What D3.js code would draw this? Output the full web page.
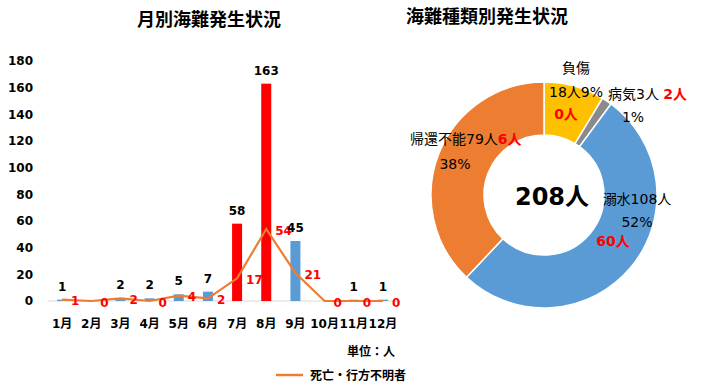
<!DOCTYPE html>
<html>
<head>
<meta charset="utf-8">
<script src="https://cdn.jsdelivr.net/npm/d3@7"></script>
<style>
  body { margin: 0; background: #fff; }
  text { font-family: "DejaVu Sans", "Noto Sans CJK JP", sans-serif; }
</style>
</head>
<body>
<div id="chart-container"></div>
<script>
// monthly data
const months = ["1月", "2月", "3月", "4月", "5月", "6月", "7月", "8月", "9月", "10月", "11月", "12月"];
const accidents = [1, 0, 2, 2, 5, 7, 58, 163, 45, 0, 1, 1];
const deaths = [1, 0, 2, 0, 4, 2, 17, 54, 21, 0, 0, 0];
const redMonths = ["7月", "8月"];
const yTicks = [0, 20, 40, 60, 80, 100, 120, 140, 160, 180];

// donut data
const kinds = ["負傷", "病気", "溺水", "帰還不能"];
const kindCounts = [18, 3, 108, 79];
const kindDeaths = [0, 2, 60, 6];
const kindColors = ["#FFC000", "#8A8A8A", "#5B9BD5", "#ED7D31"];
const total = 208;

const W = 701, H = 387;
const svg = d3.select("#chart-container").append("svg")
  .attr("width", W).attr("height", H);

// ---- left: bar + line chart ----
const x = d3.scaleBand().domain(months).range([47.5, 397.5]);
const y = d3.scaleLinear().domain([0, 180]).range([301, 61]);
const cx = (m) => x(m) + x.bandwidth() / 2;

svg.append("text")
  .attr("x", 209).attr("y", 26)
  .attr("text-anchor", "middle")
  .style("font-family", "'Noto Sans CJK JP'")
  .style("font-weight", "bold").style("font-size", "18px")
  .text("月別海難発生状況");

const yAxis = svg.append("g")
  .attr("transform", "translate(47.5,0)")
  .call(d3.axisLeft(y).tickValues(yTicks).tickSize(0).tickPadding(14.5));
yAxis.select(".domain").remove();
yAxis.selectAll("text").style("font-size", "12px").style("font-weight", "bold").attr("fill", "#000");

// baseline
svg.append("line")
  .attr("x1", 47.5).attr("x2", 397.5)
  .attr("y1", y(0)).attr("y2", y(0))
  .attr("stroke", "#d9d9d9").attr("stroke-width", 1);

const xAxis = svg.append("g")
  .attr("transform", `translate(0,${y(0)})`)
  .call(d3.axisBottom(x).tickSize(0).tickPadding(18));
xAxis.select(".domain").remove();
xAxis.selectAll("text").style("font-size", "12px").style("font-weight", "bold").attr("fill", "#000");

const barData = months.map((m, i) => ({ m, v: accidents[i], d: deaths[i] }));

svg.selectAll(".bar").data(barData).enter().append("rect")
  .attr("class", "bar")
  .attr("x", (d) => cx(d.m) - 5)
  .attr("width", 10)
  .attr("y", (d) => y(d.v))
  .attr("height", (d) => y(0) - y(d.v))
  .attr("fill", (d) => (redMonths.includes(d.m) ? "#FF0000" : "#5B9BD5"));

const line = d3.line().x((d) => cx(d.m)).y((d) => y(d.d));
svg.append("path").datum(barData)
  .attr("fill", "none")
  .attr("stroke", "#ED7D31")
  .attr("stroke-width", 2.2)
  .attr("d", line);

// death labels (right of point)
svg.selectAll(".dlabel").data(barData).enter().append("text")
  .attr("x", (d) => cx(d.m) + 9)
  .attr("y", (d) => y(d.d) + 2)
  .attr("dominant-baseline", "middle")
  .attr("fill", "#FF0000")
  .style("font-size", "12px").style("font-weight", "bold")
  .text((d) => d.d);

// bar labels
svg.selectAll(".blabel").data(barData.filter((d) => d.v > 0)).enter().append("text")
  .attr("x", (d) => cx(d.m))
  .attr("y", (d) => y(d.v) - 9)
  .attr("text-anchor", "middle")
  .style("font-size", "12px").style("font-weight", "bold")
  .text((d) => d.v);

svg.append("text")
  .attr("x", 395).attr("y", 356)
  .attr("text-anchor", "end")
  .style("font-family", "'Noto Sans CJK JP'")
  .style("font-size", "12px").style("font-weight", "bold")
  .text("単位：人");

svg.append("line")
  .attr("x1", 276).attr("x2", 303).attr("y1", 375).attr("y2", 375)
  .attr("stroke", "#ED7D31").attr("stroke-width", 2.5);
svg.append("text")
  .attr("x", 310).attr("y", 379.5)
  .style("font-family", "'Noto Sans CJK JP'")
  .style("font-size", "12px").style("font-weight", "bold")
  .text("死亡・行方不明者");

// ---- right: donut ----
const dcx = 544, dcy = 195;
svg.append("text")
  .attr("x", 487).attr("y", 23)
  .attr("text-anchor", "middle")
  .style("font-family", "'Noto Sans CJK JP'")
  .style("font-weight", "bold").style("font-size", "18px")
  .text("海難種類別発生状況");

const pie = d3.pie().sort(null).value((d) => d.v);
const arc = d3.arc().innerRadius(60).outerRadius(113);
const pieData = pie(kinds.map((k, i) => ({ k, v: kindCounts[i], c: kindColors[i] })));

const dg = svg.append("g").attr("transform", `translate(${dcx},${dcy})`);
dg.selectAll("path").data(pieData).enter().append("path")
  .attr("d", arc)
  .attr("fill", (d) => d.data.c)
  .attr("stroke", "#fff").attr("stroke-width", 1.5);

const pct = (i) => Math.round((kindCounts[i] / total) * 100) + "%";

function lbl(dx, dy, anchor, parts) {
  const t = dg.append("text")
    .attr("x", dx).attr("y", dy)
    .attr("text-anchor", anchor)
    .attr("dominant-baseline", "middle")
    .style("font-size", "14px");
  parts.forEach((p) => {
    t.append("tspan")
      .attr("fill", p.red ? "#FF0000" : "#000")
      .style("font-weight", p.red ? "bold" : "normal")
      .text(p.t);
  });
}

// 負傷
lbl(32, -126, "middle", [{ t: kinds[0] }]);
lbl(32, -102, "middle", [{ t: kindCounts[0] + "人" + pct(0) }]);
lbl(22, -80, "middle", [{ t: kindDeaths[0] + "人", red: true }]);
// 病気
lbl(64, -100, "start", [{ t: kinds[1] + kindCounts[1] + "人 " }, { t: kindDeaths[1] + "人", red: true }]);
lbl(89, -77, "middle", [{ t: pct(1) }]);
// 溺水
lbl(93, 5, "middle", [{ t: kinds[2] + kindCounts[2] + "人" }]);
lbl(93, 28, "middle", [{ t: pct(2) }]);
lbl(69, 47, "middle", [{ t: kindDeaths[2] + "人", red: true }]);
// 帰還不能
lbl(-134, -55, "start", [{ t: kinds[3] + kindCounts[3] + "人" }, { t: kindDeaths[3] + "人", red: true }]);
lbl(-89, -30, "middle", [{ t: pct(3) }]);

dg.append("text")
  .attr("x", 8).attr("y", 3)
  .attr("text-anchor", "middle")
  .attr("dominant-baseline", "middle")
  .style("font-size", "24px").style("font-weight", "bold")
  .text(total + "人");
</script>
</body>
</html>
